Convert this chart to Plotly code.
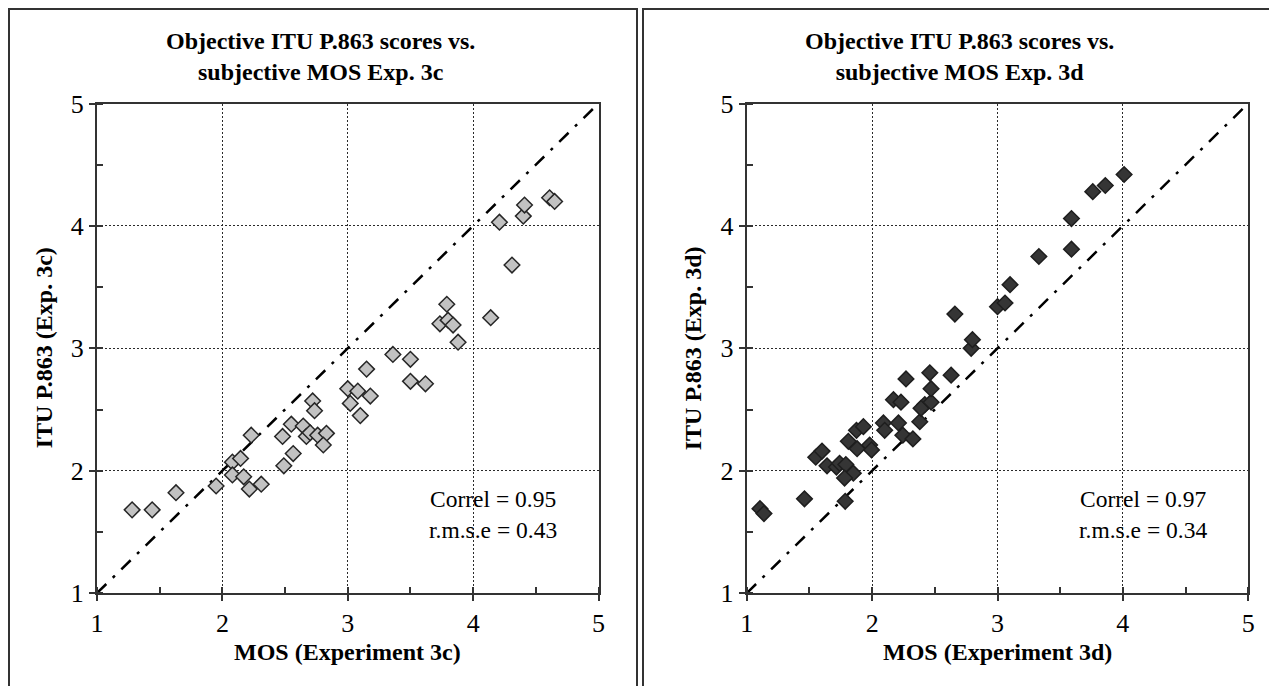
import plotly.graph_objects as go

# ---- data ----
mos_3c = [1.28, 1.44, 1.63, 1.95, 2.08, 2.145, 2.08, 2.17, 2.215, 2.23, 2.31, 2.48, 2.49,
          2.565, 2.55, 2.645, 2.67, 2.72, 2.735, 2.70, 2.76, 2.83, 2.805, 3.00, 3.08, 3.02,
          3.18, 3.10, 3.15, 3.36, 3.50, 3.50, 3.62, 3.735, 3.79, 3.80, 3.84, 3.88, 4.14,
          4.31, 4.21, 4.40, 4.41, 4.61, 4.65]
p863_3c = [1.68, 1.68, 1.82, 1.875, 2.07, 2.10, 1.965, 1.95, 1.85, 2.29, 1.89, 2.28, 2.04,
           2.14, 2.38, 2.365, 2.28, 2.57, 2.49, 2.31, 2.29, 2.305, 2.21, 2.67, 2.65, 2.55,
           2.61, 2.45, 2.83, 2.95, 2.91, 2.73, 2.71, 3.20, 3.36, 3.23, 3.19, 3.05, 3.25,
           3.68, 4.03, 4.08, 4.17, 4.23, 4.20]

mos_3d = [1.105, 1.137, 1.46, 1.55, 1.60, 1.64, 1.715, 1.74, 1.79, 1.85, 1.78, 1.785, 1.81,
          1.88, 1.875, 1.93, 1.98, 1.995, 2.09, 2.10, 2.21, 2.17, 2.23, 2.245, 2.325, 2.38,
          2.42, 2.39, 2.47, 2.47, 2.27, 2.46, 2.63, 2.66, 2.79, 2.80, 3.00, 3.06, 3.10,
          3.33, 3.59, 3.59, 3.76, 3.86, 4.01]
p863_3d = [1.69, 1.65, 1.77, 2.11, 2.16, 2.04, 2.03, 2.06, 2.05, 1.98, 1.94, 1.75, 2.24,
           2.18, 2.33, 2.36, 2.21, 2.17, 2.39, 2.33, 2.39, 2.58, 2.56, 2.29, 2.26, 2.40,
           2.54, 2.51, 2.56, 2.67, 2.75, 2.80, 2.78, 3.28, 3.00, 3.07, 3.34, 3.37, 3.52,
           3.75, 3.81, 4.06, 4.28, 4.33, 4.42]

diag = [1, 5]
tick_vals = [1, 2, 3, 4, 5]

titles = ["Objective ITU P.863 scores vs.<br>subjective MOS Exp. 3c",
          "Objective ITU P.863 scores vs.<br>subjective MOS Exp. 3d"]
x_titles = ["MOS (Experiment 3c)", "MOS (Experiment 3d)"]
y_titles = ["ITU P.863 (Exp. 3c)", "ITU P.863 (Exp. 3d)"]
stats = ["Correl = 0.95<br>r.m.s.e = 0.43", "Correl = 0.97<br>r.m.s.e = 0.34"]

# page body has an 8px margin: figure is offset by 8px in the screenshot
OFF = 8
W, H = 1277 - OFF, 686 - OFF
SERIF = "Liberation Serif"


def pxx(v):
    return (v - OFF) / W


def pxy(v):
    return 1 - (v - OFF) / H


fig = go.Figure()

for xa, ya in [("x", "y"), ("x2", "y2")]:
    fig.add_trace(go.Scatter(x=diag, y=diag, mode="lines", xaxis=xa, yaxis=ya,
                             line=dict(color="black", width=2.5, dash="13px,9px,3px,9px"),
                             hoverinfo="skip", showlegend=False))

fig.add_trace(go.Scatter(x=mos_3c, y=p863_3c, mode="markers", xaxis="x", yaxis="y",
                         marker=dict(symbol="diamond", size=12, color="#c2c2c2",
                                     line=dict(color="#262626", width=1.5)),
                         showlegend=False, cliponaxis=False))
fig.add_trace(go.Scatter(x=mos_3d, y=p863_3d, mode="markers", xaxis="x2", yaxis="y2",
                         marker=dict(symbol="diamond", size=12, color="#353535",
                                     line=dict(color="#1e1e1e", width=1.5)),
                         showlegend=False, cliponaxis=False))


def axis(domain, anchor):
    return dict(domain=domain, anchor=anchor, range=[1, 5], tickvals=tick_vals,
                ticks="outside", ticklen=6, tickwidth=1.5, tickcolor="#333",
                showline=True, linecolor="#333", linewidth=2, mirror=True,
                showgrid=True, gridcolor="#2a2a2a", griddash="2px,2px", gridwidth=1.3,
                zeroline=False, tickfont=dict(family=SERIF, size=26, color="black"),
                minor=dict(dtick=0.5, tick0=1, ticks="inside", ticklen=6,
                           tickwidth=1.5, tickcolor="#333", showgrid=False))


ydom = [pxy(593.1), pxy(103.5)]
xdom1 = [pxx(97), pxx(598.5)]
xdom2 = [pxx(746.8), pxx(1248.2)]

fig.update_layout(
    width=W, height=H,
    margin=dict(l=0, r=0, t=0, b=0, autoexpand=False),
    paper_bgcolor="white", plot_bgcolor="white",
    xaxis=axis(xdom1, "y"), yaxis=axis(ydom, "x"),
    xaxis2=axis(xdom2, "y2"), yaxis2=axis(ydom, "x2"),
    showlegend=False,
)

ann = []
frames = [(9, 637), (643, 1275)]
title_x = [320, 959]
centers = [(xdom1[0] + xdom1[1]) / 2, (xdom2[0] + xdom2[1]) / 2]
ytitle_x = [44, 693]
shapes = []
for i in range(2):
    ann.append(dict(text=titles[i], xref="paper", yref="paper", x=pxx(title_x[i]), y=pxy(57),
                    xanchor="center", yanchor="middle", showarrow=False,
                    font=dict(family=SERIF, size=24, color="black", weight="bold")))
    ann.append(dict(text=x_titles[i], xref="paper", yref="paper", x=centers[i], y=pxy(652),
                    xanchor="center", yanchor="middle", showarrow=False,
                    font=dict(family=SERIF, size=24, color="black", weight="bold")))
    ann.append(dict(text=y_titles[i], xref="paper", yref="paper", x=pxx(ytitle_x[i]),
                    y=(ydom[0] + ydom[1]) / 2, textangle=-90,
                    xanchor="center", yanchor="middle", showarrow=False,
                    font=dict(family=SERIF, size=24, color="black", weight="bold")))
    xr = "x" if i == 0 else "x2"
    yr = "y" if i == 0 else "y2"
    ann.append(dict(text=stats[i], xref=xr, yref=yr, x=4.16, y=1.64,
                    xanchor="center", yanchor="middle", showarrow=False, align="center",
                    font=dict(family=SERIF, size=23.5, color="black")))
    shapes.append(dict(type="rect", xref="paper", yref="paper",
                       x0=pxx(frames[i][0]), x1=pxx(frames[i][1]),
                       y0=-0.05, y1=pxy(9), line=dict(color="#333", width=2)))

fig.update_layout(annotations=ann, shapes=shapes)

fig.write_html("out.html")
